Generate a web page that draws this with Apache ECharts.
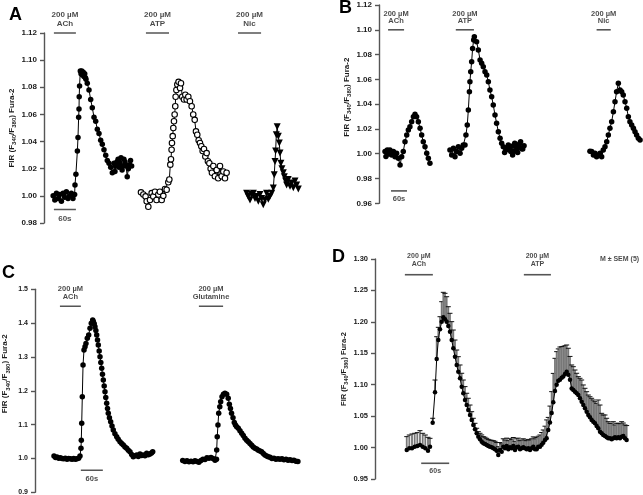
<!DOCTYPE html>
<html><head><meta charset="utf-8">
<script src="https://cdn.jsdelivr.net/npm/echarts@6/dist/echarts.min.js"></script>
<style>html,body{margin:0;padding:0;background:#fff}#c{width:643px;height:495px}</style>
</head><body><div id="c"></div>
<script>
// ---------- DATA (time in s, FIR ratio) ----------
const aAch = [[25,1.000],[29.5,0.997],[34,1.002],[38.5,0.998],[43,1.001],[47.5,0.996],[52,1.002],[56.5,0.999],[61,1.003],[65.5,0.998],[70,1.000],[74.5,1.002],[79,0.998],[83.5,1.001],[84.5,1.008],[87,1.016],[91,1.033],[92.7,1.043],[94.5,1.058],[95.5,1.064],[96,1.073],[97,1.081],[99,1.092],[101,1.090],[103,1.092],[105,1.089],[107,1.091],[109,1.088],[111,1.090],[113,1.087],[114.5,1.086],[118,1.083],[122.7,1.078],[127.3,1.071],[131.7,1.065],[136.4,1.058],[141,1.055],[145.4,1.049],[150,1.046],[154.6,1.041],[159,1.038],[163.6,1.034],[168.3,1.030],[172.6,1.026],[177.3,1.024],[181.9,1.021],[186.3,1.017],[191,1.024],[193.5,1.018],[196,1.022],[199,1.025],[202,1.027],[204.5,1.021],[207,1.024],[210,1.028],[213,1.019],[215.5,1.022],[218,1.027],[221,1.025],[224,1.022],[227,1.014],[230,1.020],[233,1.023],[236,1.026],[239,1.022]];
const aAtp = [[264.5,1.0026],[271,1.001],[277,0.9996],[280,0.996],[284.5,0.992],[289,0.997],[293.6,1.002],[298,0.9996],[302.7,1.003],[307,0.997],[311.8,1.001],[316,1.003],[321,0.997],[325.4,1.000],[330,1.005],[334.5,1.0045],[339,1.010],[341.8,1.012],[344.5,1.023],[346.3,1.027],[348,1.034],[349,1.039],[351,1.044],[352.7,1.050],[354.5,1.055],[356.3,1.060],[358,1.066],[359,1.073],[361,1.078],[363.6,1.082],[367,1.084],[371,1.0795],[373.6,1.083],[377,1.073],[381.8,1.071],[385.4,1.0745],[389,1.071],[393.6,1.073],[398,1.0697],[402.7,1.066],[407,1.060],[411,1.056],[414.5,1.0475],[418,1.045],[421.8,1.041],[425.4,1.039],[429,1.0365],[432.7,1.033],[436.3,1.0345],[440,1.029],[443.6,1.0315],[447,1.0255],[451,1.024],[454.5,1.020],[458,1.017],[461.8,1.022],[466,1.0145],[471,1.019],[475,1.013],[480,1.022],[484.5,1.0145],[489,1.018],[493.6,1.013],[498,1.017]];
const aNic = [[552.7,1.002],[557,0.9996],[561.8,0.997],[566.3,1.001],[571,1.002],[575.4,0.998],[580,0.9996],[584.5,0.996],[589,1.001],[593.6,0.998],[598,0.9935],[602.7,0.997],[607,1.002],[611.7,0.9975],[616,0.9996],[621,1.002],[625.4,1.0058],[628,1.0156],[630,1.0254],[631.7,1.033],[633.6,1.045],[636,1.051],[639,1.044],[641.7,1.039],[643.6,1.0316],[646,1.024],[649,1.020],[652.7,1.017],[655.4,1.014],[659,1.011],[661.7,1.008],[666,1.012],[671,1.007],[675.4,1.0095],[680,1.006],[684.5,1.011],[689,1.008],[693.6,1.005]];

const bAch = [[22.5,1.0017],[26,0.9977],[31,1.003],[35,0.9998],[41,1.003],[47.5,0.999],[54,1.0017],[60,0.9976],[66,1.0004],[72.5,0.9963],[79,0.991],[85,0.9976],[91,1.0017],[97.5,1.0097],[104,1.0151],[110,1.0192],[116,1.0218],[122.5,1.0259],[129,1.0299],[135,1.0318],[141,1.0299],[147.5,1.0259],[154,1.0205],[160,1.0151],[166,1.0097],[172.5,1.0057],[179,1.0004],[185,0.9963],[191,0.9923]];
const bAtp = [[266,1.003],[272.5,0.999],[279,1.0044],[285,0.9976],[291,1.0017],[297.5,1.0057],[304,1.0004],[310,1.0044],[316,1.007],[322.5,1.007],[326,1.0151],[331,1.0232],[335,1.0353],[339,1.050],[341,1.0581],[344,1.0662],[347.5,1.0743],[351,1.085],[355,1.0918],[357.5,1.0944],[366,1.0904],[372.5,1.0837],[379,1.0756],[385,1.073],[391,1.0702],[397.5,1.0662],[404,1.0635],[410,1.0581],[416,1.0514],[422.5,1.046],[428.5,1.0393],[435,1.0313],[441,1.0246],[447.5,1.0178],[454,1.0125],[460,1.0084],[466,1.0057],[471,1.001],[476,1.003],[480,1.005],[485,1.007],[489,1.004],[494,1.0017],[498,1.006],[501,0.999],[505,1.002],[509,1.0084],[512,1.006],[516,1.003],[520,1.001],[524,1.0057],[527,1.008],[531,1.0097],[535,1.004],[539,1.0038],[544,1.0065]];
const bNic = [[791,1.002],[797.5,1.0017],[804,0.999],[810,1.0004],[816,0.9976],[822.5,0.999],[829,1.0004],[835,0.9976],[841,1.003],[847.5,1.0057],[854,1.0097],[860,1.0151],[866,1.0205],[872.5,1.0259],[879,1.0339],[885,1.042],[891,1.050],[897.5,1.0568],[904,1.0514],[910,1.050],[916,1.0474],[922.5,1.042],[929,1.0367],[935,1.0299],[941,1.0259],[947.5,1.0232],[954,1.0205],[960,1.0178],[966,1.0151],[972.5,1.0124],[979,1.011]];

const cAch = [[51.8,1.007],[56,1.003],[60,1.004],[64.6,1.001],[69,1.002],[73.6,1.000],[78.3,0.999],[82.6,1.001],[87.3,0.998],[91.9,1.000],[96.3,0.999],[101,0.998],[105.5,1.000],[110,0.998],[114.5,0.999],[119,1.001],[122.7,1.007],[125.4,1.030],[126.3,1.054],[127.4,1.104],[129,1.1826],[131,1.2763],[133.6,1.3206],[136.4,1.330],[139,1.340],[142.6,1.355],[146.4,1.365],[150,1.3847],[153.5,1.3995],[157.3,1.409],[159,1.405],[161.5,1.398],[163.6,1.3895],[166,1.378],[168.3,1.365],[170.5,1.350],[172.6,1.3354],[175,1.318],[177.3,1.3008],[179.5,1.284],[181.9,1.2665],[184,1.249],[186.3,1.2319],[188.7,1.214],[190.9,1.1973],[193,1.180],[195.5,1.163],[197.7,1.148],[199.9,1.1335],[203,1.120],[206.4,1.1086],[210,1.096],[213.5,1.0841],[218,1.073],[222.8,1.0643],[227,1.057],[231.8,1.0495],[236.4,1.044],[240.8,1.0398],[245.5,1.034],[250,1.030],[254.5,1.024],[259,1.020],[263.6,1.012],[268,1.0052],[272.7,1.008],[277.3,1.0102],[281.7,1.006],[286.3,1.0131],[291,1.009],[295.3,1.0102],[300,1.008],[304.6,1.0152],[309,1.011],[313.6,1.0131],[317.7,1.016],[321,1.020]];
const cGlu = [[402.8,0.994],[409,0.991],[414.5,0.993],[420,0.990],[425.5,0.992],[431,0.990],[436.3,0.993],[441.8,0.991],[447,0.989],[452.7,0.994],[458,0.998],[463.6,0.997],[469,1.002],[474.5,1.001],[480,1.003],[485.4,1.000],[491,0.995],[495,0.998],[495.5,1.025],[497,1.0643],[499,1.099],[501,1.1335],[504,1.153],[506.4,1.1678],[510,1.1825],[514,1.190],[518,1.1926],[522.7,1.190],[527,1.178],[530,1.160],[533,1.148],[536,1.1335],[540,1.120],[543.5,1.106],[546.7,1.099],[550,1.094],[554.5,1.089],[559,1.082],[563.7,1.0742],[568,1.068],[572.7,1.060],[577.3,1.054],[581.7,1.0495],[586.3,1.044],[591,1.039],[595.3,1.034],[600,1.030],[604.6,1.028],[609,1.024],[613.6,1.022],[618,1.020],[622.6,1.015],[627,1.010],[632,1.007],[636,1.005],[641,1.0033],[646,1.000],[651.7,1.001],[657,0.998],[662.7,0.999],[668,0.9975],[673.6,0.999],[679,0.996],[684.5,0.998],[690,0.995],[695.4,0.996],[701,0.994],[706,0.995],[711.7,0.992],[717,0.991]];

// panel D: [time, mean, mean+SEM]
const dBase = [[68,0.9961,1.0174],[73.5,0.9988,1.020],[79.3,0.9988,1.0216],[85,1.0014,1.0227],[90.7,1.0025,1.0238],[96.4,1.004,1.0269],[102.2,1.0014,1.0227],[107.8,0.9988,1.020],[113.6,0.995,1.0163],[117.9,1.0014,1.0147]];
const dMain = [[123.6,1.0396,1.0466],[128.6,1.088,1.1075],[132.2,1.141,1.1764],[135.7,1.1711,1.1913],[139.3,1.1881,1.2082],[142.9,1.2003,1.2321],[146.4,1.2072,1.247],[150,1.204,1.2454],[153.6,1.2003,1.24],[157.1,1.1934,1.2241],[160.7,1.1844,1.2136],[164.4,1.1711,1.2003],[167.8,1.158,1.187],[171.4,1.1446,1.1711],[175.1,1.1314,1.1552],[178.5,1.1207,1.1446],[182.2,1.1102,1.1314],[185.8,1.0969,1.1182],[189.2,1.0864,1.1075],[192.9,1.0757,1.097],[196.5,1.0677,1.0864],[199.9,1.0598,1.0784],[203.6,1.0518,1.0677],[207.2,1.0439,1.0571],[210.7,1.0359,1.0466],[214.3,1.0291,1.0386],[217.9,1.0227,1.0307],[221.4,1.0174,1.0253],[225,1.0132,1.0227],[228.7,1.0094,1.0201],[232.1,1.0068,1.0174],[235.7,1.0057,1.0164],[239.4,1.0041,1.0147],[242.8,1.0025,1.013],[246.4,1.0014,1.012],[250.1,1.0004,1.0115],[253.5,0.9988,1.011],[257.2,0.9972,1.010],[260.8,0.995,1.008],[264.2,0.9882,1.0014],[267.9,0.9961,1.008],[271.5,0.9934,1.006],[274.9,1.0014,1.014],[278.6,0.9988,1.012],[282.2,1.0025,1.015],[285.7,0.9972,1.011],[289.3,1.0004,1.014],[292.9,0.9988,1.013],[296.4,1.0025,1.016],[300,0.9961,1.010],[303.6,1.0004,1.014],[307.1,1.0014,1.015],[310.7,0.9972,1.011],[314.4,0.9988,1.012],[317.8,1.0004,1.014],[321.4,0.9988,1.012],[325.1,0.9972,1.011],[328.5,0.9988,1.013],[332.2,0.9961,1.012],[335.8,0.9988,1.014],[339.2,1.0014,1.017],[342.9,0.9972,1.014],[346.5,0.9972,1.016],[349.9,1.0014,1.018],[353.6,1.0014,1.020],[357.2,1.0045,1.024],[360.6,1.0078,1.028],[364.3,1.012,1.034],[367.9,1.0148,1.044],[371.3,1.028,1.048],[375,1.040,1.066],[378.6,1.055,1.089],[382.1,1.072,1.118],[385.7,1.090,1.142],[389.3,1.100,1.1526],[392.8,1.1065,1.157],[396.4,1.108,1.160],[400.1,1.111,1.1605],[403.5,1.113,1.161],[407.2,1.117,1.162],[410.8,1.1207,1.1632],[414.3,1.116,1.158],[417.9,1.108,1.145],[421.5,1.094,1.1314],[425,1.0916,1.1287],[428.6,1.089,1.1234],[432.2,1.0864,1.1182],[435.7,1.0836,1.1128],[439.3,1.0784,1.1102],[442.9,1.073,1.1075],[446.4,1.0677,1.0996],[450,1.0625,1.0943],[453.6,1.0571,1.0889],[457.1,1.0518,1.0836],[460.7,1.0482,1.0809],[464.3,1.0439,1.0784],[467.8,1.0412,1.0757],[471.4,1.0386,1.073],[475,1.0343,1.0704],[478.5,1.0307,1.0757],[482.2,1.0253,1.0677],[485.8,1.0227,1.0545],[489.2,1.020,1.0518],[492.9,1.0184,1.0518],[496.5,1.0163,1.0466],[499.9,1.0147,1.0412],[503.6,1.0147,1.0386],[507.2,1.0132,1.0386],[510.7,1.0147,1.0412],[514.3,1.0163,1.036],[517.9,1.0147,1.0386],[521.4,1.0163,1.0386],[525,1.0147,1.038],[528.6,1.0173,1.0412],[532.1,1.0184,1.039],[535.7,1.0147,1.036],[539.3,1.012,1.035]];

// stimulus bars: [start s, end s, level, label]
const barsA = [[27,87,1.12,'200 µM\nACh'],[278,341,1.12,'200 µM\nATP'],[529,592,1.12,'200 µM\nNic']];
const barsB = [[34,94,1.10,'200 µM\nACh'],[288,356,1.10,'200 µM\nATP'],[816,869,1.10,'200 µM\nNic']];
const barsC = [[68,125,1.45,'200 µM\nACh'],[447,513,1.45,'200 µM\nGlutamine']];
const barsD = [[64,124,1.275,'200 µM\nACh'],[319,377,1.275,'200 µM\nATP']];
// 60 s scale bars
const scaleA = [27,87,0.99,'60s'];
const scaleB = [45,105,0.97,'60s'];
const scaleC = [125,185,0.965,'60s'];
const scaleD = [99,159,0.975,'60s'];
const semText = 'M ± SEM (5)';
const semPos = [524,1.30];
const yTitle = 'FIR (F{s|340}/F{s|380}) Fura-2';

// ---------- CHART ----------
const FONT = '"Liberation Sans", Arial, Helvetica, sans-serif';
const TXT = '#1a1a1a';
const AX = '#555';

function yAx(gi, min, max, interval, dec, fs, nfs, gap, shift) {
  return {
    gridIndex: gi, type: 'value', min, max, interval,
    axisLine: {show: true, lineStyle: {color: AX, width: 1.4}},
    axisTick: {show: true, length: 4, lineStyle: {color: AX, width: 1.4}},
    splitLine: {show: false},
    axisLabel: {formatter: v => v.toFixed(dec), fontSize: fs, margin: 7, fontWeight: 'bold', color: TXT, fontFamily: FONT},
    name: yTitle, nameLocation: 'middle', nameGap: gap, nameRotate: 90,
    nameTextStyle: {fontSize: nfs, fontWeight: 'bold', color: TXT, fontFamily: FONT, lineHeight: 12,
      padding: [0, 0, 0, shift || 0],
      rich: {s: {fontSize: nfs - 2, fontWeight: 'bold', color: TXT, fontFamily: FONT, lineHeight: 6, verticalAlign: 'bottom'}}}
  };
}

function barSeries(gi, b, pos, dist, fs, lh) {
  const [x1, x2, y, txt] = b;
  return [
    {type: 'line', xAxisIndex: gi, yAxisIndex: gi, data: [[x1, y], [x2, y]], symbol: 'none',
     lineStyle: {color: AX, width: 1.6}, clip: false, silent: true, z: 3},
    {type: 'scatter', xAxisIndex: gi, yAxisIndex: gi, data: [[(x1 + x2) / 2, y]], symbolSize: 0, clip: false, silent: true,
     label: {show: true, position: pos, distance: dist, formatter: txt, fontSize: fs, lineHeight: lh,
       fontWeight: 'bold', color: TXT, fontFamily: FONT, align: 'center'}}
  ];
}

function trace(gi, data, opt) {
  opt = opt || {};
  return {type: 'line', xAxisIndex: gi, yAxisIndex: gi, data,
    symbol: opt.symbol || 'circle', symbolSize: opt.size || 5.5, symbolRotate: opt.rot || 0, showSymbol: true,
    itemStyle: {color: opt.fill || '#000', borderColor: '#000', borderWidth: opt.bw || 0},
    lineStyle: {color: '#000', width: 1}, clip: false, z: 5, silent: true};
}

function errSeries(gi, data) {
  return {type: 'custom', xAxisIndex: gi, yAxisIndex: gi, data, clip: false, z: 4, silent: true,
    encode: {x: 0, y: [1, 2]},
    renderItem: function (params, api) {
      const x = api.value(0), m = api.value(1), t = api.value(2);
      const p1 = api.coord([x, m]), p2 = api.coord([x, t]);
      return {type: 'group', children: [
        {type: 'line', shape: {x1: p1[0], y1: p1[1], x2: p2[0], y2: p2[1]}, style: {stroke: '#777', lineWidth: 1.8}},
        {type: 'line', shape: {x1: p2[0] - 2.5, y1: p2[1], x2: p2[0] + 2.5, y2: p2[1]}, style: {stroke: '#111', lineWidth: 1}}
      ]};
    }};
}

const series = [];
// A
barsA.forEach(b => series.push(...barSeries(0, b, 'top', 5, 8, 9)));
series.push(...barSeries(0, scaleA, 'bottom', 5, 8, 9));
series.push(trace(0, aAch));
series.push(trace(0, aAtp, {fill: '#fff', bw: 1.1, size: 5.5}));
series.push(trace(0, aNic, {symbol: 'triangle', rot: 180, size: 7}));
// B
barsB.forEach(b => series.push(...barSeries(1, b, 'top', 5, 7.5, 7)));
series.push(...barSeries(1, scaleB, 'bottom', 4, 7.5, 8));
series.push(trace(1, bAch));
series.push(trace(1, bAtp));
series.push(trace(1, bNic));
// C
barsC.forEach(b => series.push(...barSeries(2, b, 'top', 5, 7.5, 8)));
series.push(...barSeries(2, scaleC, 'bottom', 5, 7.5, 8));
series.push(trace(2, cAch));
series.push(trace(2, cGlu));
// D
barsD.forEach(b => series.push(...barSeries(3, b, 'top', 7, 7, 8)));
series.push(...barSeries(3, scaleD, 'bottom', 4, 7, 8));
series.push(errSeries(3, dBase));
series.push(errSeries(3, dMain));
series.push(trace(3, dBase.map(r => [r[0], r[1]]), {size: 4.5}));
series.push(trace(3, dMain.map(r => [r[0], r[1]]), {size: 4.5}));
series.push({type: 'scatter', xAxisIndex: 3, yAxisIndex: 3, data: [semPos], symbolSize: 0, clip: false, silent: true,
  label: {show: true, position: 'inside', formatter: semText, fontSize: 7, fontWeight: 'bold', color: TXT, fontFamily: FONT}});

const letter = (t, l, tp) => ({type: 'text', left: l, top: tp,
  style: {text: t, fontSize: 18, fontWeight: 'bold', fontFamily: FONT, fill: '#000'}});

const option = {
  animation: false,
  backgroundColor: '#fff',
  textStyle: {fontFamily: FONT},
  grid: [
    {left: 44, top: 33, width: 264, height: 190, outerBoundsMode: 'none'},
    {left: 379, top: 5, width: 264, height: 198.3, outerBoundsMode: 'none'},
    {left: 35, top: 289.3, width: 275, height: 203, outerBoundsMode: 'none'},
    {left: 375, top: 259, width: 261.3, height: 220, outerBoundsMode: 'none'}
  ],
  xAxis: [
    {gridIndex: 0, type: 'value', min: 0, max: 720, show: false},
    {gridIndex: 1, type: 'value', min: 0, max: 990, show: false},
    {gridIndex: 2, type: 'value', min: 0, max: 750, show: false},
    {gridIndex: 3, type: 'value', min: 0, max: 560, show: false}
  ],
  yAxis: [
    yAx(0, 0.98, 1.12, 0.02, 2, 8, 8, 26, 0),
    yAx(1, 0.96, 1.12, 0.02, 2, 8, 8, 26, 14),
    yAx(2, 0.9, 1.5, 0.1, 1, 7, 8, 24, 34),
    yAx(3, 0.95, 1.30, 0.05, 2, 7.5, 7.5, 24, 0)
  ],
  graphic: [letter('A', 9, 6), letter('B', 339, -1), letter('C', 2, 264), letter('D', 332, 248)],
  series
};
const chart = echarts.init(document.getElementById('c'), null, {renderer: 'canvas'});
chart.setOption(option);
</script></body></html>
